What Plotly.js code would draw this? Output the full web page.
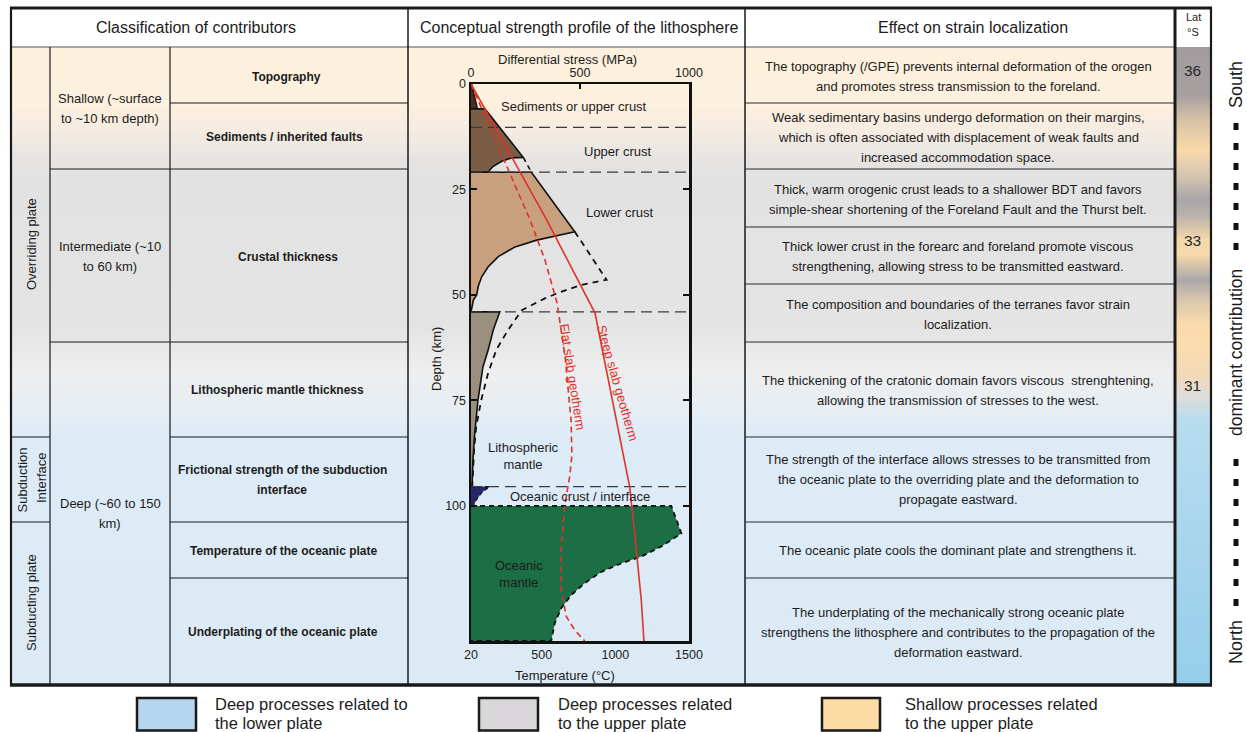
<!DOCTYPE html>
<html>
<head>
<meta charset="utf-8">
<script src="https://cdn.plot.ly/plotly-3.0.1.min.js"></script>
<style>html,body{margin:0;padding:0;background:#fff;}#chart{width:1247px;height:732px;}</style>
</head>
<body>
<div id="chart"></div>
<script>
// ================= DATA (text content) =================
const headerTitles = ["Classification of contributors", "Conceptual strength profile of the lithosphere", "Effect on strain localization"];
const plateNames = [["Overriding plate"], ["Subduction", "Interface"], ["Subducting plate"]];
const depthClasses = [["Shallow (~surface", "to ~10 km depth)"], ["Intermediate (~10", "to 60 km)"], ["Deep (~60 to 150", "km)"]];
const contributors = [
  ["Topography"],
  ["Sediments / inherited faults"],
  ["Crustal thickness"],
  ["Lithospheric mantle thickness"],
  ["Frictional strength of the subduction", "interface"],
  ["Temperature of the oceanic plate"],
  ["Underplating of the oceanic plate"]
];
const effects = [
  ["The topography (/GPE) prevents internal deformation of the orogen", "and promotes stress transmission to the foreland."],
  ["Weak sedimentary basins undergo deformation on their margins,", "which is often associated with displacement of weak faults and", "increased accommodation space."],
  ["Thick, warm orogenic crust leads to a shallower BDT and favors", "simple-shear shortening of the Foreland Fault and the Thurst belt."],
  ["Thick lower crust in the forearc and foreland promote viscous", "strengthening, allowing stress to be transmitted eastward."],
  ["The composition and boundaries of the terranes favor strain", "localization."],
  ["The thickening of the cratonic domain favors viscous  strenghtening,", "allowing the transmission of stresses to the west."],
  ["The strength of the interface allows stresses to be transmitted from", "the oceanic plate to the overriding plate and the deformation to", "propagate eastward."],
  ["The oceanic plate cools the dominant plate and strengthens it."],
  ["The underplating of the mechanically strong oceanic plate", "strengthens the lithosphere and contributes to the propagation of the", "deformation eastward."]
];
const latHeader = ["Lat", "°S"];
const latLabels = ["36", "33", "31"];
const sideLabels = ["North", "dominant contribution", "South"];
const legendLabels = [["Deep processes related to", "the lower plate"], ["Deep processes related", "to the upper plate"], ["Shallow processes related", "to the upper plate"]];

// ================= DATA (strength profile) =================
const stressTicks = [0, 500, 1000];
const tempTicks = [20, 500, 1000, 1500];
const depthTicks = [0, 25, 50, 75, 100];
const layerDepths = [10.3, 20.9, 54, 95.4];

const sedStress = [0, 3, 30, 0];
const sedDepth = [0, 0, 5.9, 5.9];
const upperStress = [0, 64, 240, 187, 141, 102, 77, 0];
const upperDepth = [5.9, 5.9, 17.4, 17.5, 18.3, 19.5, 20.9, 20.9];
const lowerStress = [0, 277, 476, 301, 202, 125, 79, 49, 33, 26, 11, 3, 0];
const lowerDepth = [20.9, 20.9, 35, 37, 38.6, 40.9, 43.3, 45.7, 48, 50, 51.2, 53.5, 54];
const gapStress = [240, 277];
const gapDepth = [17.4, 20.9];
const altStress = [476, 622, 508, 416, 339, 278, 233, 170, 116, 78, 47, 24, 14, 9, 6];
const altDepth = [35, 46.4, 47.6, 49.2, 50.8, 52.4, 53.6, 58.3, 63, 68.6, 74.9, 81.2, 86.7, 92.2, 95.4];
const lithStress = [0, 132, 102, 79, 55, 32, 17, 9, 5, 0];
const lithDepth = [54, 54, 58.3, 63, 67, 74.9, 82.8, 89.1, 95, 95.4];
const ocCrustStress = [0, 86, 50, 25, 10, 0];
const ocCrustDepth = [95.4, 95.4, 96.8, 98.5, 100, 100];
const ocMantleStress = [0, 919, 965, 873, 781, 689, 598, 521, 460, 414, 384, 368, 0];
const ocMantleDepth = [100, 100, 106.5, 109.6, 112, 113.6, 115.6, 118.3, 121.1, 124.2, 127.8, 132, 132];
const steepTemp = [20, 534, 862, 1097, 1131, 1176, 1194];
const steepDepth = [0, 32.2, 54.3, 95.4, 106.5, 122.3, 132];
const flatTemp = [20, 330, 421, 522, 605, 660, 700, 705, 690, 656, 633, 633, 667, 724, 792];
const flatDepth = [0, 24.6, 32.2, 41.7, 52, 65, 80, 88, 93, 100, 110, 120, 126.2, 129.4, 132];
const regionLabels = ["Sediments or upper crust", "Upper crust", "Lower crust", "Lithospheric<br>mantle", "Oceanic crust / interface", "Oceanic<br>mantle"];
const geothermLabels = ["Flat slab geotherm", "Steep slab geotherm"];
const axisTitles = ["Differential stress (MPa)", "Depth (km)", "Temperature (°C)"];

// ================= STYLE / LAYOUT =================
const W = 1247, H = 732;
const FONT = "Liberation Sans, Arial, Helvetica, sans-serif";
const TXT = "#1c1c1c";
const RED = "#e0322a";
const tableStops = [[47,"#fdf1de"],[105,"#fcf0de"],[130,"#f5ece2"],[160,"#e6e4e2"],[180,"#e2e2e2"],[330,"#e4e4e4"],[370,"#eeeeee"],[410,"#e6eef4"],[440,"#dcebf6"],[685,"#dceaf5"]];
const latStops = [[47,"#a29c9f"],[95,"#a7a0a0"],[120,"#d7c2a6"],[150,"#f9d9a9"],[175,"#d6c6b0"],[200,"#a8a6a9"],[215,"#b9b1aa"],[240,"#f5d8aa"],[255,"#f5d8ab"],[280,"#aba7aa"],[300,"#d9c7af"],[325,"#fbdbab"],[345,"#fbdcad"],[375,"#f2dab8"],[398,"#dcdcdc"],[420,"#b8dcee"],[685,"#95ceea"]];
const legendFill = ["#b6d6ef", "#d9d7d9", "#fddba5"];

function gradient(y0, y1, stops) {
  const ys = [], z = [];
  for (let y = y0; y <= y1; y++) ys.push(y);
  for (let y = y0; y < y1; y++) z.push([y + 0.5]);
  const cs = stops.map(s => [(s[0] - y0) / (y1 - y0), s[1]]);
  return {ys, z, cs};
}

const traces = [];
const tg = gradient(47, 685, tableStops);
traces.push({type: 'heatmap', x: [11, 1175], y: tg.ys, z: tg.z, zmin: 47, zmax: 685, colorscale: tg.cs, showscale: false, hoverinfo: 'skip', xaxis: 'x', yaxis: 'y'});
const lg = gradient(47, 685, latStops);
traces.push({type: 'heatmap', x: [1176, 1211], y: lg.ys, z: lg.z, zmin: 47, zmax: 685, colorscale: lg.cs, showscale: false, hoverinfo: 'skip', xaxis: 'x', yaxis: 'y'});

function poly(xs, ys, fill, line) {
  return {type: 'scatter', mode: 'lines', x: xs, y: ys, fill: 'toself', fillcolor: fill, line: line, xaxis: 'x2', yaxis: 'y2', hoverinfo: 'skip', showlegend: false};
}
function path(xs, ys, line, xa) {
  return {type: 'scatter', mode: 'lines', x: xs, y: ys, line: line, xaxis: xa || 'x2', yaxis: 'y2', hoverinfo: 'skip', showlegend: false, connectgaps: false};
}
traces.push(poly(sedStress, sedDepth, '#4f2c20', {color: '#111', width: 1.3}));
traces.push(poly(upperStress, upperDepth, '#7b5c44', {color: '#111', width: 1.6}));
traces.push(poly(lowerStress, lowerDepth, '#c9a07d', {color: '#111', width: 1.6}));
traces.push(poly(lithStress, lithDepth, '#9b8f7d', {color: '#111', width: 1.6}));
traces.push(poly(ocCrustStress, ocCrustDepth, '#27276a', {color: '#111', width: 1.2, dash: '4px,3px'}));
traces.push(poly(ocMantleStress, ocMantleDepth, '#1c6e45', {color: '#111', width: 1.8, dash: '5px,4px'}));
traces.push(path(gapStress, gapDepth, {color: '#111', width: 1.6, dash: '5px,4px'}));
traces.push(path(altStress, altDepth, {color: '#111', width: 1.8, dash: '6px,5px'}));
const bx = [], by = [];
layerDepths.forEach(d => { bx.push(0, 1000, null); by.push(d, d, null); });
traces.push(path(bx, by, {color: '#3a3a3a', width: 1.2, dash: '11px,6px'}));
traces.push(path(flatTemp, flatDepth, {color: RED, width: 1.6, dash: '6px,4px'}, 'x3'));
traces.push(path(steepTemp, steepDepth, {color: RED, width: 1.6}, 'x3'));

// ---------- shapes ----------
const shapes = [];
function hline(y, x0, x1, w, c) { shapes.push({type: 'line', xref: 'x', yref: 'y', x0: x0, x1: x1, y0: y, y1: y, line: {color: c || '#1a1a1a', width: w || 1}, layer: 'above'}); }
function vline(x, y0, y1, w, c) { shapes.push({type: 'line', xref: 'x', yref: 'y', x0: x, x1: x, y0: y0, y1: y1, line: {color: c || '#1a1a1a', width: w || 1}, layer: 'above'}); }

hline(47, 11, 1175, 1.5, '#8a8a8a');
// left table
hline(103, 170, 408, 1);
hline(169, 50, 408, 1);
hline(342, 50, 408, 1);
hline(437, 11, 50, 1); hline(437, 170, 408, 1);
hline(522, 11, 50, 1); hline(522, 170, 408, 1);
hline(578, 170, 408, 1);
vline(50, 47, 685, 1.2);
vline(170, 47, 685, 1.2);
// right table
[103, 169, 227, 284, 342, 437, 522, 578].forEach(y => hline(y, 745, 1175, 1.2, '#2a2a2a'));
// columns and frame
vline(408, 8, 685, 1.5);
vline(745, 8, 685, 1.5);
vline(11, 7, 686, 2.2);
vline(1175, 7, 686, 3);
vline(1211, 7, 686, 2.2);
hline(8, 10, 1212, 3);
hline(685, 10, 1212, 3.5);
// side squares
shapes.push({type: 'line', xref: 'x', yref: 'y', x0: 1236, x1: 1236, y0: 606, y1: 455, line: {color: '#111', width: 5, dash: '7px,13px'}, layer: 'above'});
shapes.push({type: 'line', xref: 'x', yref: 'y', x0: 1236, x1: 1236, y0: 250, y1: 115, line: {color: '#111', width: 5, dash: '7px,13px'}, layer: 'above'});
// legend boxes
const legBoxes = [[137, 196], [479, 538], [822, 880]];
legBoxes.forEach((b, i) => shapes.push({type: 'rect', xref: 'x', yref: 'y', x0: b[0], x1: b[1], y0: 698, y1: 730.5, fillcolor: legendFill[i], line: {color: '#1a1a1a', width: 2.5}, layer: 'above'}));

// ---------- annotations ----------
const ann = [];
function txt(s, x, y, size, opt) {
  ann.push(Object.assign({text: s, x: x, y: y, xref: 'x', yref: 'y', showarrow: false, xanchor: 'center', yanchor: 'middle', font: {family: FONT, size: size, color: TXT}}, opt || {}));
}
function lines(arr, x, cy, size, spacing, opt) {
  const n = arr.length;
  arr.forEach((s, i) => txt(s, x, cy + (i - (n - 1) / 2) * spacing, size, opt));
}
txt(headerTitles[0], 195.5, 27, 16);
txt(headerTitles[1], 579, 27, 16);
txt(headerTitles[2], 973, 27, 16);
txt(latHeader[0], 1193, 17, 11);
txt(latHeader[1], 1193, 32, 11);

// plate column (rotated)
txt(plateNames[0][0], 31, 244, 13, {textangle: -90});
txt(plateNames[1][0], 21.5, 480, 13, {textangle: -90});
txt(plateNames[1][1], 41, 478, 13, {textangle: -90});
txt(plateNames[2][0], 31, 603, 13, {textangle: -90});
// depth class
const depthCY = [108.7, 256.7, 513];
depthClasses.forEach((d, i) => lines(d, 110, depthCY[i], 13, 20));
// contributors
const contribCY = [76.5, 137, 256.7, 390, 480, 550.7, 632];
const contribCX = [286, 284, 288, 277, 282, 283, 283];
contributors.forEach((c, i) => lines(c.map(s => '<b>' + s + '</b>'), contribCX[i], contribCY[i], 12, 20));
// effects
const effCY = [76.7, 137.3, 199, 256.7, 314, 390.7, 479.7, 550.7, 632.3];
effects.forEach((e, i) => lines(e, 958, effCY[i], 13, 20));
// lat labels
const latY = [70, 240, 385];
latLabels.forEach((l, i) => txt(l, 1192, latY[i], 15.5, {font: {family: FONT, size: 15.5, color: '#2a2a2a'}}));
// side labels
txt(sideLabels[0], 1236, 642, 18, {textangle: -90});
txt(sideLabels[1], 1236, 353, 17.5, {textangle: -90});
txt(sideLabels[2], 1236, 85, 18, {textangle: -90});
// legend text
const legTX = [213, 556, 903];
legendLabels.forEach((l, i) => { txt(l[0], legTX[i], 704, 16.5, {xanchor: 'left'}); txt(l[1], legTX[i], 722.5, 16.5, {xanchor: 'left'}); });

// plot labels
txt(axisTitles[0], 567, 59, 13);
txt(axisTitles[1], 436, 359, 13, {textangle: -90});
txt(axisTitles[2], 565, 675, 13);
txt(regionLabels[0], 574, 106.7, 13);
txt(regionLabels[1], 618, 151, 13);
txt(regionLabels[2], 620, 212.7, 13);
txt(regionLabels[3], 523, 456.3, 13);
txt(regionLabels[4], 580, 496.7, 13);
txt(regionLabels[5], 519, 574, 13);
txt(geothermLabels[0], 573, 377, 13, {textangle: 81, font: {family: FONT, size: 13, color: RED}});
txt(geothermLabels[1], 618, 383, 13, {textangle: 74, font: {family: FONT, size: 13, color: RED}});

// ---------- layout ----------
const dx = [471 / W, 689 / W];
const dy = [1 - 641 / H, 1 - 84 / H];
const tickfont = {family: FONT, size: 12.5, color: '#222'};
const layout = {
  width: W, height: H,
  margin: {l: 0, r: 0, t: 0, b: 0, pad: 0},
  paper_bgcolor: '#ffffff',
  plot_bgcolor: 'rgba(0,0,0,0)',
  showlegend: false,
  font: {family: FONT, color: TXT},
  xaxis: {domain: [0, 1], range: [0, W], visible: false, fixedrange: true, showgrid: false, zeroline: false},
  yaxis: {domain: [0, 1], range: [H, 0], visible: false, fixedrange: true, showgrid: false, zeroline: false},
  xaxis2: {domain: dx, anchor: 'y2', side: 'top', range: [0, 1000], tickmode: 'array', tickvals: stressTicks, ticktext: stressTicks.map(String),
    ticks: 'inside', ticklen: 5, tickwidth: 2, tickcolor: '#111', showline: true, linewidth: 2.5, linecolor: '#111',
    showgrid: false, zeroline: false, tickfont: tickfont, fixedrange: true},
  xaxis3: {overlaying: 'x2', anchor: 'y2', side: 'bottom', range: [20, 1500], tickmode: 'array', tickvals: tempTicks, ticktext: tempTicks.map(String),
    ticks: '', showline: true, linewidth: 2.5, linecolor: '#111', showgrid: false, zeroline: false, tickfont: tickfont, fixedrange: true},
  yaxis2: {domain: dy, anchor: 'x2', range: [132, 0], tickmode: 'array', tickvals: depthTicks, ticktext: depthTicks.map(String),
    ticks: 'inside', ticklen: 6, tickwidth: 2, tickcolor: '#111', mirror: 'ticks', showline: true, linewidth: 2.5, linecolor: '#111',
    showgrid: false, zeroline: false, tickfont: tickfont, fixedrange: true},
  shapes: shapes,
  annotations: ann
};
Plotly.newPlot('chart', traces, layout, {staticPlot: true, displayModeBar: false});
</script>
</body>
</html>
